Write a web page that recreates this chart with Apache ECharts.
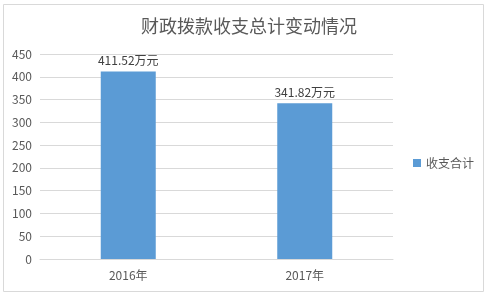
<!DOCTYPE html>
<html><head><meta charset="utf-8">
<script src="https://cdn.jsdelivr.net/npm/echarts@6/dist/echarts.min.js"></script>
<style>html,body{margin:0;padding:0;background:#fff}#c{width:489px;height:297px}</style>
</head><body><div id="c"></div>
<script>
const categories = ['2016年', '2017年'];
const values = [411.52, 341.82];
const seriesName = '收支合计';
const titleText = '财政拨款收支总计变动情况';
const yTicks = {min: 0, max: 450, interval: 50};

const chart = echarts.init(document.getElementById('c'), null, {renderer: 'canvas'});
const font = '"Noto Sans CJK SC", "Noto Sans", sans-serif';
chart.setOption({
  animation: false,
  textStyle: {fontFamily: font},
  graphic: [{type: 'rect', shape: {x: 3.5, y: 4.5, width: 480, height: 287}, style: {fill: 'none', stroke: '#d9d9d9', lineWidth: 1}, silent: true}],
  title: {text: titleText, left: 244, textAlign: 'center', top: 12,
    textStyle: {fontSize: 18, fontWeight: 'normal', color: '#595959', fontFamily: font}},
  legend: {data: [seriesName], orient: 'vertical', left: 408, top: 152, itemWidth: 8, itemHeight: 8, itemGap: 4,
    icon: 'rect', textStyle: {fontSize: 12, color: '#595959', fontFamily: font}},
  grid: {left: 40, right: 96, top: 54, bottom: 38, containLabel: false},
  xAxis: {type: 'category', data: categories,
    axisLine: {lineStyle: {color: '#d9d9d9'}}, axisTick: {show: false},
    axisLabel: {color: '#595959', fontSize: 12, margin: 10, fontFamily: font}},
  yAxis: {type: 'value', min: yTicks.min, max: yTicks.max, interval: yTicks.interval,
    axisLine: {show: false}, axisTick: {show: false},
    splitLine: {lineStyle: {color: '#d9d9d9'}},
    axisLabel: {color: '#595959', fontSize: 12, margin: 8, fontFamily: font}},
  series: [{name: seriesName, type: 'bar', data: values, barWidth: 55,
    itemStyle: {color: '#5b9bd5'},
    label: {show: true, position: 'top', distance: 5, color: '#404040', fontSize: 12, fontFamily: font,
      formatter: p => p.value.toFixed(2) + '万元'}}]
});
</script></body></html>
